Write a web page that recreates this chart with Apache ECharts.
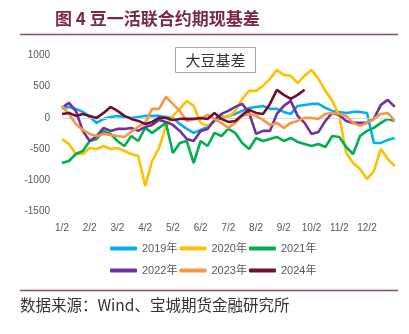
<!DOCTYPE html>
<html>
<head>
<meta charset="utf-8">
<script src="https://cdn.jsdelivr.net/npm/echarts@6/dist/echarts.min.js"></script>
<style>
html,body{margin:0;padding:0;background:#fff;}
#c{width:409px;height:334px;}
</style>
</head>
<body>
<div id="c"></div>
<script>
// x categories: 4 points per month (day 2, 9, 16, 23) plus year end
const months = [1,2,3,4,5,6,7,8,9,10,11,12];
const days = [2,9,16,23];
const categories = [];
months.forEach(m => days.forEach(d => categories.push(m + '/' + d)));
categories.push('12/30');

const yTicks = [-1500, -1000, -500, 0, 500, 1000];

const seriesNames = ['2019年','2020年','2021年','2022年','2023年','2024年'];

const s2019 = [150,176,144,96,16,-80,-16,16,32,16,0,16,32,32,32,16,0,-96,-176,-240,-192,-144,-48,0,32,64,112,160,176,192,144,144,96,64,192,208,224,224,160,112,96,80,96,96,80,-400,-400,-352,-320];
const s2020 = [-337,-417,-577,-577,-481,-497,-449,-497,-481,-529,-577,-609,-1090,-689,-481,-128,32,144,272,192,-80,-128,-48,32,16,112,304,433,433,513,625,769,689,673,561,673,769,625,433,272,32,-561,-721,-817,-978,-850,-497,-657,-769];
const s2021 = [-721,-689,-577,-529,-369,-337,-208,-256,-369,-449,-289,-369,-160,-240,-160,-80,-561,-401,-369,-721,-369,-449,-240,-289,-176,-240,-401,-497,-321,-369,-337,-305,-369,-321,-385,-417,-449,-417,-465,-289,-305,-465,-577,-289,-208,-160,-80,-16,-48];
const s2022 = [160,240,112,-208,-369,-289,-160,-208,-176,-176,-160,-208,-144,-112,-32,-64,-112,-208,-337,-369,-208,-176,-32,64,112,176,224,80,-256,-208,-208,64,192,272,32,-80,-256,-224,-48,80,48,-48,-80,-80,-80,-16,208,288,176];
const s2023 = [192,64,-96,-192,-256,-289,-256,-272,-289,-305,-224,-144,-80,144,144,337,224,112,-48,-16,-16,48,-16,-80,-160,-80,32,64,32,-32,-112,-80,-160,-80,-48,0,0,-16,64,80,64,32,-80,-128,-80,-16,64,80,-48];
const s2024 = [64,80,32,64,32,0,80,176,112,32,-16,-48,-96,-64,0,0,-32,-16,-16,-16,0,-16,80,-16,-64,-48,48,128,80,64,224,449,369,304,369,450];

const colors = ['#00B0F0','#FFC000','#00B050','#7030A0','#F79646','#70102F'];
const allData = [s2019,s2020,s2021,s2022,s2023,s2024];

const FONT = "'Liberation Sans','Noto Sans CJK SC',sans-serif";
const chart = echarts.init(document.getElementById('c'), null, {renderer:'canvas'});

const series = seriesNames.map((n,i) => {
  const s = {
    name: n, type: 'line', data: allData[i], showSymbol: false, symbol: 'none',
    lineStyle: {color: colors[i], width: 2.6}, itemStyle: {color: colors[i]},
    smooth: false, z: 2 + i, animation: false
  };
  if (i === 0) {
    s.markLine = {silent: true, symbol: ['none','none'], label: {show: false},
      lineStyle: {color: '#D9D9D9', width: 1.2, type: 'solid'},
      data: [{yAxis: 0}], animation: false};
  }
  return s;
});

const legendCommon = {
  orient: 'horizontal', itemWidth: 27, itemHeight: 4, itemGap: 2, icon: 'roundRect',
  textStyle: {color: '#595959', fontSize: 11, fontFamily: FONT}, padding: 0
};

chart.setOption({
  animation: false,
  backgroundColor: '#fff',
  color: colors,
  grid: {left: 62, right: 14.3, top: 55.4, bottom: 122.3, containLabel: false},
  xAxis: {
    type: 'category', data: categories, boundaryGap: false,
    axisLine: {show: false}, axisTick: {show: false}, splitLine: {show: false},
    axisLabel: {
      color: '#595959', fontSize: 10, fontFamily: FONT, margin: 12,
      interval: (idx, val) => /\/2$/.test(val)
    }
  },
  yAxis: {
    type: 'value', min: yTicks[0], max: yTicks[yTicks.length-1], interval: 500,
    axisLine: {show: false}, axisTick: {show: false}, splitLine: {show: false},
    axisLabel: {color: '#595959', fontSize: 10, fontFamily: FONT, margin: 12, formatter: v => String(v)}
  },
  legend: [
    Object.assign({}, legendCommon, {data: seriesNames.slice(0,3), left: 110, top: 243}),
    Object.assign({}, legendCommon, {data: seriesNames.slice(3), left: 110, top: 265})
  ],
  graphic: [
    {type: 'text', left: 55, top: 10, style: {text: '图 4 豆一活联合约期现基差', fill: '#7A2748', font: "bold 17px 'Noto Sans CJK SC', sans-serif"}},
    {type: 'line', shape: {x1: 20, y1: 34.5, x2: 398, y2: 34.5}, style: {stroke: '#8E4A66', lineWidth: 1.5}},
    {type: 'rect', shape: {x: 175.5, y: 47.5, width: 80, height: 25}, style: {fill: '#fff', stroke: '#A6A6A6', lineWidth: 1}, z: 10},
    {type: 'text', x: 215.5, y: 60, style: {text: '大豆基差', fill: '#333', font: "15px 'Noto Sans CJK SC', sans-serif", textAlign: 'center', textVerticalAlign: 'middle'}, z: 11},
    {type: 'line', shape: {x1: 20, y1: 290.5, x2: 398, y2: 290.5}, style: {stroke: '#8E4A66', lineWidth: 1.5}},
    {type: 'text', left: 20, top: 297, style: {text: '数据来源：Wind、宝城期货金融研究所', fill: '#333', font: "15.5px 'Noto Sans CJK SC', sans-serif"}}
  ],
  series: series
});
</script>
</body>
</html>
